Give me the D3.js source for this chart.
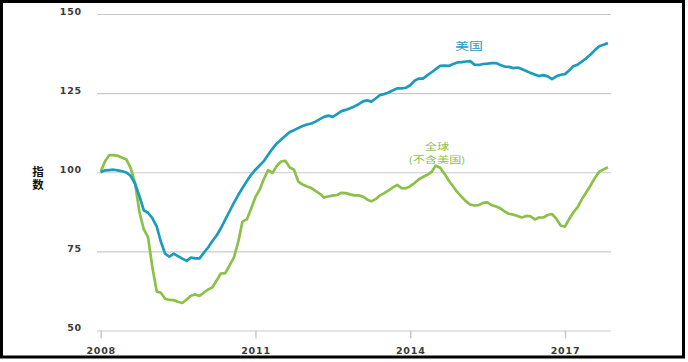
<!DOCTYPE html>
<html>
<head>
<meta charset="utf-8">
<script src="https://cdn.jsdelivr.net/npm/d3@7"></script>
<style>
  html, body { margin: 0; padding: 0; background: #fff; }
  svg { display: block; }
  .axis text { font-family: "DejaVu Sans", sans-serif; font-weight: bold; font-size: 9.5px; fill: #3a3a3a; letter-spacing: 0.8px; }
  .axis .domain { display: none; }
  .cjk { font-family: "Noto Sans CJK SC", sans-serif; }
</style>
</head>
<body>
<svg id="chart" width="688" height="362"></svg>
<script>
"use strict";
// monthly index values, Jan 2008 .. Nov 2017
const START = new Date(2008, 0, 1);
const US = [
  100, 100.6, 100.7, 100.8, 100.6, 100.3, 99.9, 98.8, 96.3, 92.5, 88, 87.2,
  85.5, 82.8, 78.2, 74.3, 73.3, 74.3, 73.5, 72.7, 72, 73, 72.8, 72.8,
  74.6, 76.3, 78.2, 80, 82.3, 85, 87.6, 90.3, 92.8, 95, 97.2, 99.2,
  100.8, 102.2, 103.5, 105.5, 107.4, 109.1, 110.3, 111.5, 112.7, 113.3, 114, 114.6,
  115.1, 115.4, 116, 116.8, 117.5, 117.9, 117.5, 118.4, 119.3, 119.7, 120.2, 120.8,
  121.5, 122.4, 122.7, 122.3, 123.3, 124.4, 124.7, 125.2, 125.9, 126.5, 126.5, 126.7,
  127.5, 128.9, 129.6, 129.6, 130.6, 131.6, 132.6, 133.6, 133.7, 133.6, 134.2, 134.7,
  134.8, 135, 135.1, 134, 133.9, 134.2, 134.3, 134.5, 134.5, 133.9, 133.4, 133.3,
  132.9, 133.1, 132.6, 132, 131.4, 130.9, 130.4, 130.7, 130.3, 129.4, 130.3, 130.8,
  131, 132.2, 133.5, 134, 135, 136, 137.2, 138.6, 139.8, 140.3, 140.8
];
const WORLD_EX_US = [
  100.2, 103.5, 105.4, 105.4, 105.2, 104.6, 104, 101.2, 96.4, 87.5, 82, 79.5,
  70, 62.3, 62, 60, 59.7, 59.6, 59.1, 58.7, 59.8, 61, 61.4, 60.9,
  62, 63, 63.6, 65.8, 68, 68.1, 70.5, 73, 78, 84.4, 85.1, 88.5,
  92.2, 94.6, 97.8, 100.7, 99.8, 102, 103.4, 103.6, 101.5, 100.8, 97, 96.1,
  95.5, 95, 94.1, 93.2, 92, 92.4, 92.6, 92.8, 93.5, 93.4, 93, 92.7,
  92.7, 92.3, 91.4, 90.8, 91.5, 92.7, 93.4, 94.3, 95.2, 96, 95, 94.9,
  95.6, 96.6, 97.7, 98.5, 99.2, 100.1, 102.1, 101.4, 99.5, 97.4, 95.5, 93.7,
  92.2, 90.8, 89.8, 89.5, 89.6, 90.3, 90.5, 89.6, 89.2, 88.6, 87.6, 86.9,
  86.6, 86.2, 85.7, 86.2, 86.1, 85.1, 85.7, 85.7, 86.5, 86.8, 85.3, 83.2,
  82.8, 85.3, 87.3, 89, 91.5, 93.7, 95.8, 98.2, 100.2, 100.9, 101.6
];
const Y_TICKS = [50, 75, 100, 125, 150];
const X_TICKS = [2008, 2011, 2014, 2017];
const Y_TITLE = "指数";
const US_LABEL = ["美国"];
const WORLD_LABEL = ["全球", "(不含美国)"];

const COLORS = { us: "#1d9bbd", world: "#8cc049", grid: "#c9c9c9" };

const svg = d3.select("#chart");

const toSeries = arr => arr.map((v, i) => ({ date: d3.timeMonth.offset(START, i), value: v }));
const usData = toSeries(US);
const worldData = toSeries(WORLD_EX_US);

const x = d3.scaleTime()
    .domain([START, d3.timeMonth.offset(START, US.length - 1)])
    .range([100.7, 607.9]);
const y = d3.scaleLinear().domain([50, 150]).range([330.5, 14]);

// frame
svg.append("rect")
    .attr("x", 1.5).attr("y", 1.5)
    .attr("width", 682).attr("height", 355.5)
    .attr("fill", "none").attr("stroke", "#000").attr("stroke-width", 3);

// y axis + gridlines
const yAxis = d3.axisLeft(y).tickValues(Y_TICKS).tickSize(-514).tickPadding(15);
const gy = svg.append("g")
    .attr("class", "axis axis--y")
    .attr("transform", "translate(97,0)")
    .call(yAxis);
gy.selectAll(".tick line").attr("stroke", COLORS.grid).attr("stroke-width", 1.2);
gy.selectAll(".tick text").attr("dy", "0.05em");

// x axis
const xAxis = d3.axisBottom(x)
    .tickValues(X_TICKS.map(yr => new Date(yr, 0, 1)))
    .tickFormat(d3.timeFormat("%Y"))
    .tickSize(8).tickPadding(8.5);
const gx = svg.append("g")
    .attr("class", "axis axis--x")
    .attr("transform", `translate(0,${y(50)})`)
    .call(xAxis);
gx.selectAll(".tick line").attr("stroke", COLORS.grid).attr("stroke-width", 1.5);

// y title, written vertically
svg.append("text")
    .attr("class", "cjk")
    .attr("x", 38).attr("y", 166)
    .style("writing-mode", "vertical-rl")
    .attr("font-size", 11.5)
    .attr("font-weight", "bold")
    .attr("letter-spacing", 1.5)
    .attr("fill", "#111")
    .text(Y_TITLE);

// lines
const line = d3.line().x(d => x(d.date)).y(d => y(d.value)).curve(d3.curveLinear);

svg.append("path")
    .datum(worldData)
    .attr("fill", "none")
    .attr("stroke", COLORS.world)
    .attr("stroke-width", 2.7)
    .attr("stroke-linejoin", "round")
    .attr("d", line);

svg.append("path")
    .datum(usData)
    .attr("fill", "none")
    .attr("stroke", COLORS.us)
    .attr("stroke-width", 2.7)
    .attr("stroke-linejoin", "round")
    .attr("d", line);

// series labels
function label(lines, tx, ty, sx, size, lineH, color) {
  svg.append("g").selectAll("text")
      .data(lines)
      .join("text")
      .attr("class", "cjk")
      .attr("transform", (d, i) => `translate(${tx},${ty + i * lineH}) scale(${sx},1)`)
      .attr("text-anchor", "middle")
      .attr("font-size", size)
      .attr("fill", color)
      .text(d => d);
}
label(US_LABEL, 469, 50, 1.4, 10, 0, COLORS.us);
label(WORLD_LABEL, 437, 150, 1.35, 9, 13, COLORS.world);
</script>
</body>
</html>
